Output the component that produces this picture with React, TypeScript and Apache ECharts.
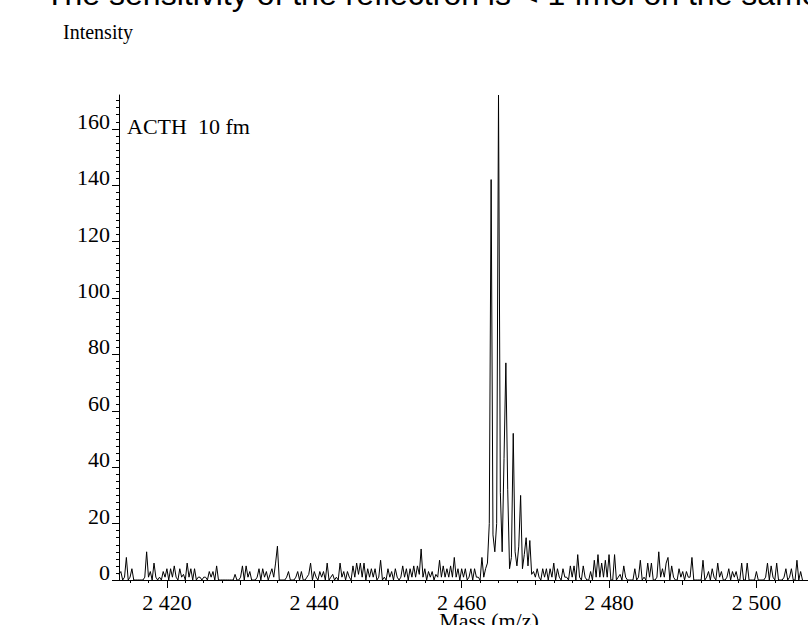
import React, { useEffect, useRef } from "react";
import * as echarts from "echarts";

// Sampling grid of the spectrum (m/z)
const MASS_START = 2413.5;
const MASS_STEP = 0.25;

// Intensity, one value per grid step
const INTENSITY: number[] = [
  2, 3, 0, 1, 8, 0, 1, 4, 0, 0,
  0, 0, 0, 0, 1, 10, 1, 3, 0, 6,
  1, 0, 1, 0, 3, 1, 4, 0, 4, 1,
  5, 1, 0, 4, 1, 2, 0, 6, 1, 4,
  0, 4, 0, 1, 1, 0, 1, 1, 0, 3,
  1, 3, 0, 5, 0, 0, 0, 0, 0, 0,
  0, 0, 0, 2, 0, 0, 1, 5, 0, 5,
  1, 3, 0, 0, 0, 1, 4, 0, 4, 1,
  3, 0, 2, 4, 1, 6, 12, 0, 0, 0,
  0, 1, 3, 0, 0, 0, 1, 3, 0, 3,
  0, 0, 1, 2, 6, 0, 3, 1, 0, 3,
  1, 3, 0, 6, 0, 1, 2, 0, 1, 0,
  6, 1, 3, 0, 3, 1, 0, 5, 1, 6,
  2, 6, 1, 6, 0, 4, 1, 4, 1, 4,
  0, 1, 7, 0, 1, 0, 4, 1, 3, 0,
  4, 1, 0, 1, 5, 1, 4, 0, 4, 1,
  5, 1, 5, 2, 11, 1, 4, 0, 3, 1,
  3, 0, 2, 1, 7, 1, 5, 1, 4, 1,
  5, 1, 8, 1, 4, 0, 4, 1, 4, 0,
  1, 4, 0, 4, 1, 1, 0, 8, 1, 4,
  6, 20, 142, 16, 10, 20, 172, 31, 10, 43,
  77, 32, 4, 8, 52, 10, 5, 12, 30, 4,
  9, 15, 5, 14, 2, 3, 1, 4, 1, 0,
  4, 1, 4, 0, 4, 1, 6, 0, 4, 1,
  0, 4, 1, 1, 0, 5, 1, 5, 0, 9,
  1, 0, 5, 1, 0, 0, 3, 0, 7, 1,
  9, 1, 6, 1, 7, 1, 9, 0, 0, 9,
  0, 1, 2, 0, 5, 1, 0, 0, 0, 0,
  4, 0, 1, 7, 0, 1, 0, 6, 1, 6,
  0, 0, 1, 10, 1, 4, 1, 6, 8, 0,
  5, 1, 0, 0, 4, 1, 3, 0, 3, 1,
  1, 8, 0, 0, 0, 0, 0, 7, 0, 1,
  3, 0, 4, 1, 0, 6, 1, 3, 0, 0,
  1, 4, 0, 3, 1, 3, 0, 0, 6, 0,
  0, 6, 0, 0, 0, 0, 3, 0, 0, 0,
  0, 1, 6, 0, 5, 1, 0, 6, 0, 0,
  0, 1, 4, 0, 1, 4, 0, 0, 7, 0,
  3, 0,
];

const X_MIN = 2413.5;
const X_MAX = 2507;
const X_TICKS = [2420, 2440, 2460, 2480, 2500];
const X_MID_TICKS = [2430, 2450, 2470, 2490];
const Y_MIN = 0;
const Y_MAX = 172;
const Y_TICKS = [0, 20, 40, 60, 80, 100, 120, 140, 160];

const TITLE = "The sensitivity of the reflectron is < 1 fmol on the same target";
const Y_NAME = "Intensity";
const X_NAME = "Mass (m/z)";
const SAMPLE_NOTE = "ACTH  10 fm";

const SERIF = "'Liberation Serif', 'Times New Roman', serif";
const SANS = "'Liberation Sans', Arial, sans-serif";

function minorTicks(lo: number, hi: number, step: number): number[] {
  const out: number[] = [];
  const start = Math.ceil(lo / step) * step;
  for (let v = start; v <= hi + 1e-9; v += step) out.push(Math.round(v * 100) / 100);
  return out;
}

function fmtThousands(v: number): string {
  const s = String(Math.round(v));
  return s.length > 3 ? s.slice(0, s.length - 3) + " " + s.slice(s.length - 3) : s;
}

export default function App() {
  const ref = useRef<HTMLDivElement>(null);

  useEffect(() => {
    if (!ref.current) return;
    const chart = echarts.init(ref.current, undefined, { renderer: "svg" });
    const data = INTENSITY.map((y, i) => [MASS_START + i * MASS_STEP, y]);
    const black = "#000";
    const baseX = {
      type: "value" as const,
      min: X_MIN,
      max: X_MAX,
      position: "bottom" as const,
      splitLine: { show: false },
    };
    const baseY = {
      type: "value" as const,
      min: Y_MIN,
      max: Y_MAX,
      position: "left" as const,
      splitLine: { show: false },
    };
    chart.setOption({
      animation: false,
      backgroundColor: "#fff",
      grid: { left: 119, right: 0, top: 95, bottom: 45 },
      xAxis: [
        {
          ...baseX,
          axisLine: { show: true, lineStyle: { color: black, width: 1 } },
          axisTick: { show: true, customValues: X_TICKS, length: 8, lineStyle: { color: black, width: 1 } },
          axisLabel: {
            show: true,
            customValues: X_TICKS,
            formatter: (v: number) => fmtThousands(v),
            fontFamily: SERIF,
            fontSize: 22,
            color: black,
            margin: 11,
          },
        },
        {
          ...baseX,
          axisLine: { show: false },
          axisTick: { show: true, customValues: X_MID_TICKS, length: 5, lineStyle: { color: black, width: 1 } },
          axisLabel: { show: false },
        },
        {
          ...baseX,
          axisLine: { show: false },
          axisTick: { show: true, customValues: minorTicks(X_MIN, X_MAX, 2.5), length: 3, lineStyle: { color: black, width: 1 } },
          axisLabel: { show: false },
        },
      ],
      yAxis: [
        {
          ...baseY,
          axisLine: { show: true, lineStyle: { color: black, width: 1 } },
          axisTick: { show: true, customValues: Y_TICKS, length: 7, lineStyle: { color: black, width: 1 } },
          axisLabel: {
            show: true,
            customValues: Y_TICKS,
            fontFamily: SERIF,
            fontSize: 22,
            lineHeight: 15,
            verticalAlign: "bottom",
            color: black,
            margin: 9,
          },
        },
        {
          ...baseY,
          axisLine: { show: false },
          axisTick: { show: true, customValues: minorTicks(Y_MIN, 170, 2.5), length: 3, lineStyle: { color: black, width: 1 } },
          axisLabel: { show: false },
        },
      ],
      series: [
        {
          type: "line",
          xAxisIndex: 0,
          yAxisIndex: 0,
          data,
          showSymbol: false,
          symbol: "none",
          lineStyle: { color: black, width: 1 },
          itemStyle: { color: black },
          silent: true,
        },
      ],
      graphic: [
        {
          type: "text",
          x: 45,
          y: -22,
          style: { text: TITLE, font: `32px ${SANS}`, fill: black, textVerticalAlign: "top" },
        },
        {
          type: "text",
          x: 63,
          y: 32,
          style: { text: Y_NAME, font: `20px ${SERIF}`, fill: black, textVerticalAlign: "middle" },
        },
        {
          type: "text",
          x: 127,
          y: 126,
          style: { text: SAMPLE_NOTE, font: `22px ${SERIF}`, fill: black, textVerticalAlign: "middle" },
        },
        {
          type: "text",
          x: 489,
          y: 609,
          style: { text: X_NAME, font: `22px ${SERIF}`, fill: black, textAlign: "center", textVerticalAlign: "top" },
        },
      ],
    });
    return () => chart.dispose();
  }, []);

  return (
    <div
      ref={ref}
      style={{ position: "fixed", left: 0, top: 0, width: 808, height: 625, background: "#fff" }}
    />
  );
}
